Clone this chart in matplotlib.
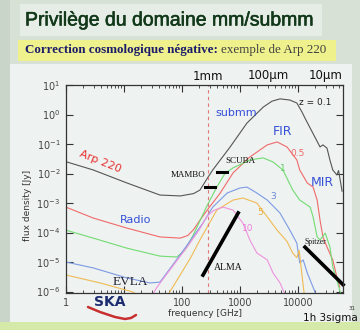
import numpy as np
import matplotlib
matplotlib.use("Agg")
import matplotlib.pyplot as plt
import matplotlib.patheffects as pe
from matplotlib.patches import Rectangle
from matplotlib.ticker import FixedLocator, LogLocator, NullFormatter, FixedFormatter

# Arp 220 SED redshifted to several z, log10(frequency / GHz) vs log10(flux / Jy)
z01_logf = [0.0, 0.47, 1.05, 1.62, 1.97, 2.20, 2.31, 2.45, 2.53, 2.83, 3.12, 3.40, 3.55, 3.69,
            3.86, 3.98, 4.07, 4.12, 4.21, 4.29, 4.38, 4.43, 4.50, 4.55, 4.60, 4.67, 4.70, 4.76]
z01_logs = [-1.60, -1.88, -2.32, -2.73, -2.76, -2.68, -2.56, -2.12, -1.88, -1.10, -0.29, 0.25, 0.45, 0.53,
            0.49, 0.39, 0.08, -0.12, -0.46, -0.76, -1.10, -1.03, -1.14, -1.54, -1.88, -2.05, -1.90, -2.60]

z05_logf = [0.0, 0.47, 1.05, 1.62, 1.97, 2.10, 2.20, 2.31, 2.45, 2.66, 2.88, 3.17, 3.47, 3.64,
            3.81, 3.98, 4.03, 4.16, 4.26, 4.33, 4.38, 4.43, 4.50, 4.60, 4.67, 4.72]
z05_logs = [-3.14, -3.51, -3.85, -4.15, -4.19, -4.10, -3.90, -3.58, -3.20, -2.66, -1.98, -1.44, -1.03, -0.93,
            -1.10, -1.54, -1.88, -2.32, -2.46, -2.90, -3.58, -4.15, -4.49, -4.93, -5.51, -5.85]

z1_logf = [0.0, 0.47, 1.05, 1.62, 1.91, 2.05, 2.19, 2.31, 2.43, 2.60, 2.74, 2.88, 3.17, 3.40, 3.57,
           3.74, 3.91, 4.03, 4.21, 4.26, 4.33, 4.38, 4.47, 4.55, 4.60, 4.67, 4.74]
z1_logs = [-3.92, -4.19, -4.53, -4.80, -4.83, -4.60, -4.10, -3.60, -3.10, -2.46, -2.00, -1.81, -1.54, -1.47, -1.61,
           -1.88, -2.56, -2.90, -3.14, -3.47, -4.15, -4.25, -4.02, -4.49, -5.17, -5.61, -6.10]

z3_logf = [0.0, 0.47, 1.05, 1.45, 1.62, 1.84, 2.09, 2.36, 2.53, 2.78, 3.00, 3.12, 3.29, 3.47,
           3.69, 3.86, 3.98, 4.03, 4.09, 4.16, 4.28, 4.35]
z3_logs = [-5.00, -5.20, -5.54, -5.71, -5.68, -5.10, -4.42, -3.68, -3.14, -2.66, -2.49, -2.46, -2.66, -2.90,
           -3.34, -3.92, -4.36, -5.03, -4.93, -5.37, -5.95, -6.40]

z5_logf = [0.0, 0.59, 1.16, 1.35, 1.70, 1.95, 2.15, 2.31, 2.60, 2.88, 3.05, 3.29, 3.47, 3.64,
           3.81, 3.91, 3.98, 4.02, 4.06, 4.12]
z5_logs = [-5.44, -5.71, -6.02, -6.30, -6.30, -5.50, -4.85, -4.25, -3.24, -2.90, -2.83, -3.00, -3.47, -3.92,
           -4.30, -4.70, -4.85, -4.60, -5.30, -6.30]

z10_logf = [1.40, 1.57, 1.79, 2.09, 2.30, 2.43, 2.55, 2.66, 2.71, 2.88, 3.05, 3.17, 3.29, 3.47,
            3.57, 3.69, 3.80]
z10_logs = [-6.40, -5.85, -5.27, -4.49, -3.90, -3.45, -3.25, -3.17, -3.14, -3.24, -3.68, -4.25, -4.69, -4.93,
            -5.37, -5.71, -6.20]

# instrument sensitivities (1h, 3 sigma)
mambo_f = [250, 370]
mambo_s = [3.5e-3, 3.5e-3]
scuba_f = [400, 600]
scuba_s = [1.1e-2, 1.1e-2]
alma_f = [230, 930]
alma_s = [3.6e-6, 4.6e-4]
spitzer_f = [13200, 60000]
spitzer_s = [3.2e-5, 1.7e-6]

curves = [
    (z01_logf, z01_logs, "#555555"),
    (z05_logf, z05_logs, "#f06a6a"),
    (z1_logf, z1_logs, "#72dc72"),
    (z3_logf, z3_logs, "#7c9ae6"),
    (z5_logf, z5_logs, "#f0bb55"),
    (z10_logf, z10_logs, "#ef92dd"),
]

fig = plt.figure(figsize=(3.6, 3.3), dpi=100)
fig.patch.set_facecolor("#d7e1d5")

# slide background, drawn in pixel coordinates
bg = fig.add_axes([0, 0, 1, 1])
bg.set_xlim(0, 360)
bg.set_ylim(330, 0)
bg.axis("off")
bg.add_patch(Rectangle((0, 0), 10, 330, color="#c9d5c8", lw=0))
bg.add_patch(Rectangle((0, 322), 360, 8, color="#d5eaa8", lw=0))
bg.add_patch(Rectangle((20, 4), 302, 32, color="#e6ede6", lw=0))
bg.add_patch(Rectangle((18, 40), 318, 21, color="#eef18c", lw=0))
bg.add_patch(Rectangle((10, 64), 342, 258, color="#eef2f0", lw=0))

bg.text(25, 21, "Privilège du domaine mm/submm", fontsize=14, color="#12381a",
        family="Liberation Sans", va="center", ha="left",
        path_effects=[pe.withStroke(linewidth=0.4, foreground="#12381a")])
t1 = bg.text(25, 50, "Correction cosmologique négative:", fontsize=9.4, color="#1c1c6a",
             family="Liberation Serif", weight="bold", va="center", ha="left")
fig.canvas.draw()
bb = t1.get_window_extent().transformed(bg.transData.inverted())
bg.text(bb.x1 + 3, 50, "exemple de Arp 220", fontsize=9.4, color="#404040",
        family="Liberation Serif", va="center", ha="left")

for label, px in [("1mm", 208), ("100µm", 268), ("10µm", 326)]:
    bg.text(px, 76, label, fontsize=8.5, color="#111111", ha="center", va="center")

bg.text(28, 205, "flux density [Jy]", fontsize=6.5, color="#333333", rotation=90,
        ha="center", va="center")
bg.text(205, 313, "frequency [GHz]", fontsize=6.5, color="#333333", ha="center", va="center")
bg.text(110, 302, "SKA", fontsize=10, weight="bold", color="#1c2c70", ha="center", va="center")
bg.plot([88, 100, 115, 125, 131, 136], [307, 312, 317, 319, 318, 315], color="#c83030", lw=1.8,
        solid_capstyle="round")
bg.text(330, 318, "1h 3sigma", fontsize=7.5, color="#111111", ha="center", va="center")
bg.text(352, 309, "31", fontsize=4, color="#333333", ha="center", va="center")

ax = fig.add_axes([66 / 360, 1 - 293 / 330, 277 / 360, 208 / 330])
ax.set_facecolor("#eef2f0")
ax.set_xscale("log")
ax.set_yscale("log")
ax.set_xlim(1, 10 ** 4.776)
ax.set_ylim(10 ** -6.05, 10)

for lf, ls, c in curves:
    ax.plot(np.power(10.0, lf), np.power(10.0, ls), color=c, lw=0.8)

ax.axvline(280, color="#e07878", lw=0.8, ls=(0, (3, 3)))

ax.plot(mambo_f, mambo_s, color="black", lw=2.2)
ax.plot(scuba_f, scuba_s, color="black", lw=2.2)
ax.plot(alma_f, alma_s, color="black", lw=2.6)
ax.plot(spitzer_f, spitzer_s, color="black", lw=2.6, clip_on=False)

serif = "Liberation Serif"
ax.text(3.9, 0.025, "Arp 220", color="#e83030", fontsize=8, rotation=-22, ha="center", va="center")
ax.text(850, 1.1, "submm", color="#3550d8", fontsize=8, ha="center", va="center")
ax.text(19500, 2.5, "z = 0.1", color="#222222", fontsize=6.5, ha="center", va="center")
ax.text(5500, 0.26, "FIR", color="#3550d8", fontsize=9, ha="center", va="center")
ax.text(10000, 0.049, "0.5", color="#f06a6a", fontsize=6.5, ha="center", va="center")
ax.text(5500, 0.015, "1", color="#60cc60", fontsize=6.5, ha="center", va="center")
ax.text(3700, 1.6e-3, "3", color="#6a88dd", fontsize=6.5, ha="center", va="center")
ax.text(2200, 4.6e-4, "5", color="#e8b040", fontsize=6.5, ha="center", va="center")
ax.text(1380, 1.4e-4, "10", color="#ec80d8", fontsize=6.5, ha="center", va="center")
ax.text(26000, 5.1e-3, "MIR", color="#3550d8", fontsize=9, ha="center", va="center")
ax.text(16, 2.6e-4, "Radio", color="#3550d8", fontsize=8, ha="center", va="center")
ax.text(1000, 0.026, "SCUBA", color="#111111", fontsize=6.5, family=serif, ha="center", va="center")
ax.text(126, 8.9e-3, "MAMBO", color="#111111", fontsize=6.5, family=serif, ha="center", va="center")
ax.text(13, 2.1e-6, "EVLA", color="#222233", fontsize=9.5, family=serif, ha="center", va="center")
ax.text(620, 6.3e-6, "ALMA", color="#111111", fontsize=7, family=serif, ha="center", va="center")
ax.text(20000, 4.8e-5, "Spitzer", color="#111111", fontsize=5.5, family=serif, ha="center", va="center")

# axes frame and ticks
for sp in ax.spines.values():
    sp.set_color("#333333")
    sp.set_linewidth(0.9)
ax.xaxis.set_major_locator(FixedLocator([1, 10, 100, 1000, 10000]))
ax.xaxis.set_major_formatter(FixedFormatter(["1", "", "100", "1000", "10000"]))
ax.xaxis.set_minor_locator(LogLocator(base=10, subs=np.arange(2, 10)))
ax.xaxis.set_minor_formatter(NullFormatter())
ax.yaxis.set_major_locator(FixedLocator([10.0 ** k for k in range(-6, 2)]))
ax.yaxis.set_minor_locator(FixedLocator([]))
ax.tick_params(which="both", direction="in", top=True, right=True, colors="#333333",
               labelcolor="#444444", labelsize=7)
ax.tick_params(which="major", length=5, width=0.8)
ax.tick_params(which="minor", length=2.5, width=0.6)
ax.tick_params(axis="y", pad=4)

fig.savefig("out.png", dpi=100, facecolor=fig.get_facecolor())
